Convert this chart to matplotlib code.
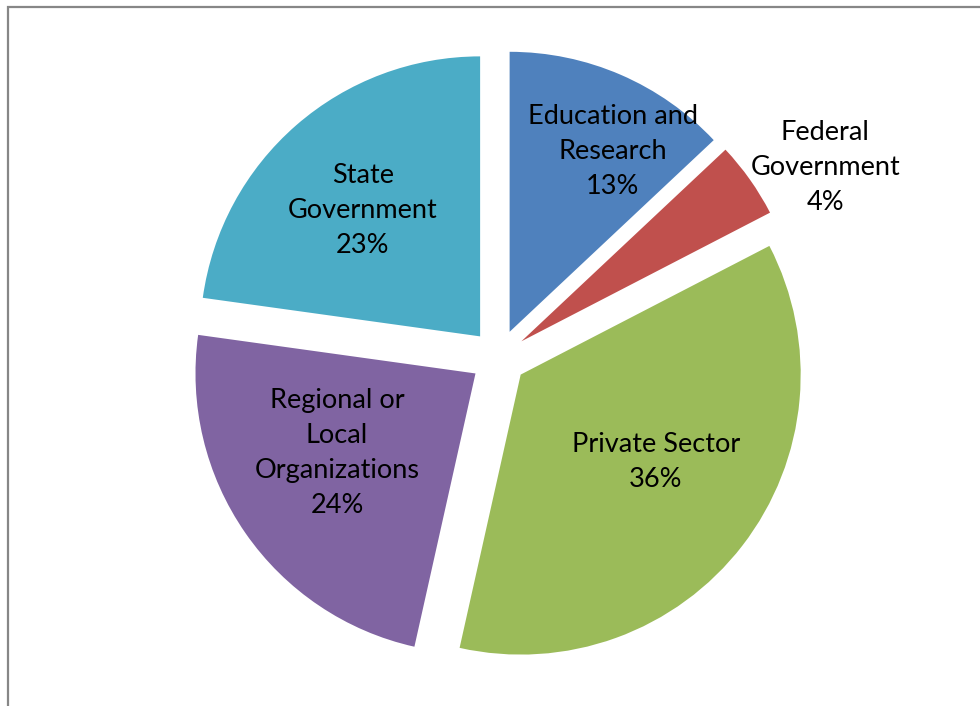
import numpy as np
import matplotlib
matplotlib.use("Agg")
import matplotlib.pyplot as plt
from matplotlib.patches import Rectangle

# data, clockwise from 12 o'clock
sectors = ["Education and\nResearch", "Federal\nGovernment", "Private Sector",
           "Regional or\nLocal\nOrganizations", "State\nGovernment"]
shares = [13.0, 4.4, 36.1, 23.7, 22.8]
colors = ["#4F81BD", "#C0504D", "#9BBB59", "#8064A2", "#4BACC6"]
label_dist = [0.84, 1.35, 0.675, 0.67, 0.715]
label_turn = [-5.6, -5.1, 4.0, -4.1, 1.6]

plt.rcParams['font.family'] = ['Lato', 'DejaVu Sans']

fig = plt.figure(figsize=(9.8, 7.06), dpi=100)
fig.patches.append(Rectangle((8 / 980, -0.1), 1.2, (706 - 7) / 706 + 0.1,
                             transform=fig.transFigure, fill=False,
                             edgecolor="#878787", linewidth=1.6))

ax = fig.add_axes([148.5 / 980, -1.5 / 706, 700 / 980, 700 / 706])
wedges, _ = ax.pie(shares, colors=colors, startangle=90, counterclock=False,
                   explode=[0.1] * len(shares), radius=1.0,
                   wedgeprops=dict(linewidth=0))
ax.set_xlim(-1.25, 1.25)
ax.set_ylim(-1.25, 1.25)
ax.set_aspect("equal")
ax.axis("off")

for w, name, val, d, t in zip(wedges, sectors, shares, label_dist, label_turn):
    ang = np.deg2rad((w.theta1 + w.theta2) / 2 + t)
    ax.text(d * np.cos(ang), d * np.sin(ang), f"{name}\n{round(val)}%",
            ha="center", va="center", fontsize=19.5, color="black",
            linespacing=1.5)

fig.savefig("out.png", dpi=100)
